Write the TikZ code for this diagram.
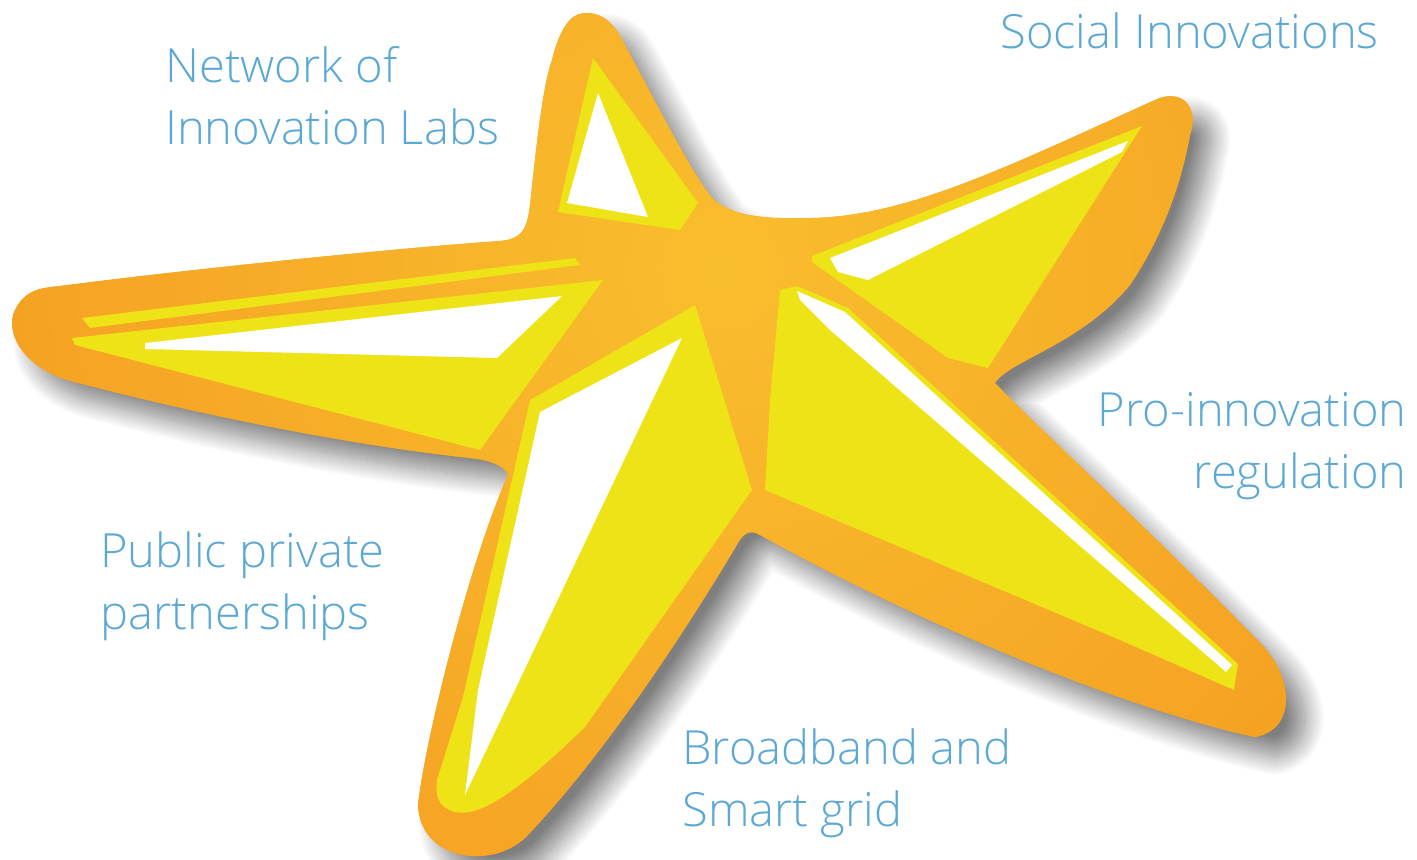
\documentclass[tikz,border=0pt]{standalone}
\usepackage{fontspec}
\setmainfont{Open Sans}[UprightFont={* Light}]
\usetikzlibrary{shadows.blur}
\definecolor{O}{RGB}{245,160,34}
\definecolor{OL}{RGB}{249,190,46}
\definecolor{Y}{RGB}{238,227,22}
\definecolor{T}{RGB}{92,168,212}

% outline of the star, in pixel units
\newcommand{\starpath}{(60,286) .. controls (200,268) and (400,248) .. (500,241)
  .. controls (520,239) and (527,232) .. (530,205)
  .. controls (537,140) and (543,85) .. (552,60)
  .. controls (562,20) and (575,12) .. (588,13)
  .. controls (605,14) and (615,25) .. (625,45)
  .. controls (660,110) and (690,170) .. (712,198)
  .. controls (730,215) and (760,219) .. (800,218)
  .. controls (900,220) and (1000,170) .. (1155,100)
  .. controls (1180,88) and (1200,105) .. (1190,135)
  .. controls (1180,190) and (1160,240) .. (1130,285)
  .. controls (1080,345) and (1010,360) .. (995,383)
  .. controls (1030,420) and (1150,530) .. (1262,645)
  .. controls (1295,680) and (1295,730) .. (1255,737)
  .. controls (1150,715) and (950,640) .. (760,535)
  .. controls (748,528) and (742,535) .. (735,548)
  .. controls (680,640) and (600,760) .. (525,838)
  .. controls (490,870) and (420,860) .. (418,805)
  .. controls (425,740) and (470,560) .. (508,475)
  .. controls (505,466) and (490,460) .. (470,458)
  .. controls (350,445) and (200,415) .. (67,380)
  .. controls (20,365) and (5,330) .. (15,310)
  .. controls (25,290) and (40,288) .. (60,286) -- cycle}

\begin{document}
\begin{tikzpicture}[x=0.02cm, y=-0.02cm,
  lbl/.style={T, inner sep=0pt, font=\fontsize{26.8}{35.5}\selectfont}]
  \useasboundingbox (0,0) rectangle (1417,859);

  % body with its shadow
  \fill[O, blur shadow={shadow xshift=11pt, shadow yshift=-11pt,
    shadow blur radius=11pt, shadow blur steps=24, shadow opacity=50}] \starpath;
  \begin{scope}
    \clip \starpath;
    \shade[inner color=OL, outer color=O] (720,270) circle (760);
  \end{scope}

  % yellow faces
  \fill[Y] (82,318) -- (575,258) -- (580,265) -- (90,328) -- cycle;
  \fill[Y] (72,338) -- (603,280) -- (480,450) -- (75,345) -- cycle;
  \fill[Y] (593,58) -- (698,203) -- (680,230) -- (558,212) -- cycle;
  \fill[Y] (812,256) -- (1142,126) -- (988,368) -- (948,358) -- (812,262) -- cycle;
  \fill[Y] (780,290) -- (797,286) -- (848,308) -- (1238,664) -- (1234,690)
    -- (1120,640) -- (765,490) -- (770,400) -- cycle;
  \fill[Y] (695,305) -- (752,490) -- (585,727)
    .. controls (520,790) and (480,818) .. (455,812)
    .. controls (438,808) and (435,795) .. (437,780) -- (463,697) -- (530,400) -- cycle;

  % white highlights
  \fill[white] (145,343) -- (562,296) -- (497,358) -- (145,349) -- cycle;
  \fill[white] (598,93) -- (648,217) -- (567,203) -- cycle;
  \fill[white] (830,258) -- (1128,141) -- (1122,152) -- (868,280) -- (838,272) -- cycle;
  \fill[white] (797,291) -- (845,312) -- (1232,665) -- (1226,672) -- (830,330) -- (800,300) -- cycle;
  \fill[white] (540,412) -- (682,338) -- (465,795) -- (478,690) -- cycle;

  % labels
  \node[lbl, anchor=north west, align=left] (labs) at (165,46) {Network of\\Innovation Labs};
  \node[lbl, anchor=north west] (social) at (1000,12) {Social Innovations};
  \node[lbl, anchor=north east, align=right] (reg) at (1407,392) {Pro-innovation\\regulation};
  \node[lbl, anchor=north west, align=left] (ppp) at (100,531) {Public private\\partnerships};
  \node[lbl, anchor=north west, align=left] (grid) at (682,728) {Broadband and\\Smart grid};
\end{tikzpicture}
\end{document}
